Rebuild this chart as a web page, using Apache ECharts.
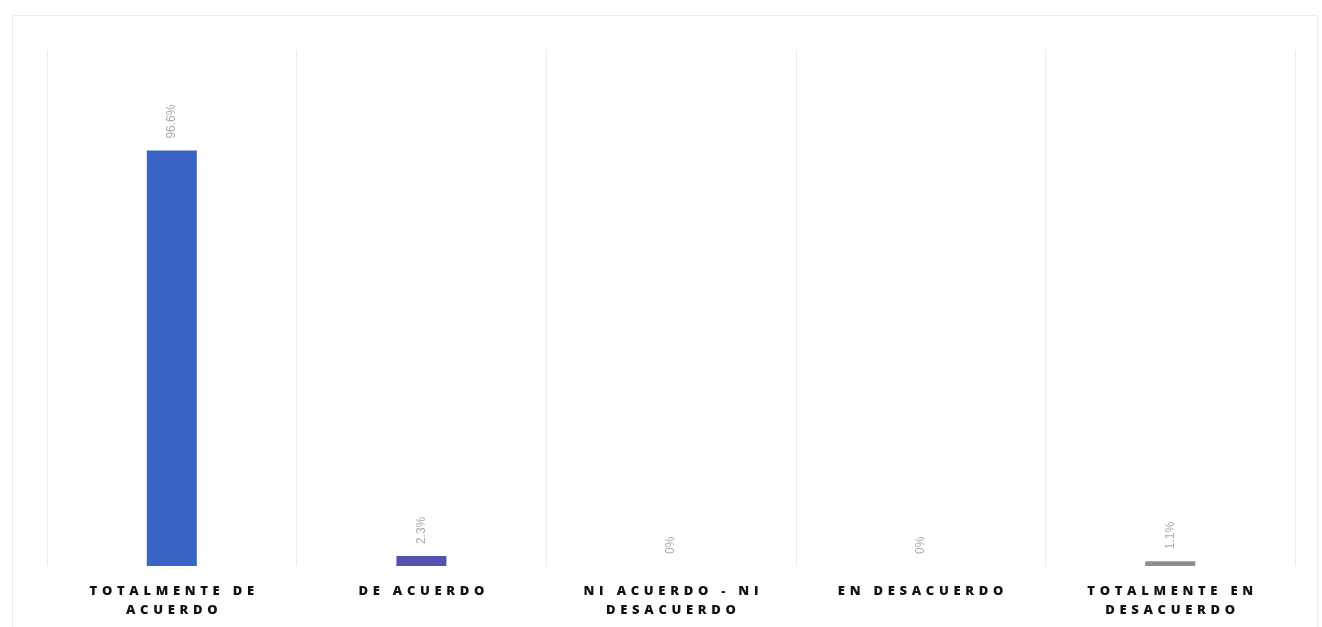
<!DOCTYPE html>
<html>
<head>
<meta charset="utf-8">
<script src="https://cdn.jsdelivr.net/npm/echarts@6/dist/echarts.min.js"></script>
<style>html,body{margin:0;padding:0;background:#fff}#c{width:1322px;height:627px}</style>
</head>
<body>
<div id="c"></div>
<script>
var categories = ["TOTALMENTE DE\nACUERDO", "DE ACUERDO", "NI ACUERDO - NI\nDESACUERDO", "EN DESACUERDO", "TOTALMENTE EN\nDESACUERDO"];
var values = [96.6, 2.3, 0, 0, 1.1];
var barColors = ["#3a63c6", "#5352b3", "#9e9e9e", "#9e9e9e", "#8f8f8f"];

function spaced(s) {
  return s.split("\n").map(function (line) {
    return line.split(" ").map(function (w) { return w.split("").join(" \u200A"); }).join("\u2002\u2002");
  }).join("\n");
}

var chart = echarts.init(document.getElementById("c"));
chart.setOption({
  backgroundColor: "#fff",
  animation: false,
  grid: { left: 47, right: 27, top: 50, bottom: 61 },
  graphic: [
    { type: "rect", shape: { x: 12.5, y: 15.5, width: 1305, height: 640 }, style: { fill: "none", stroke: "#ececec", lineWidth: 1 }, z: -1 }
  ],
  xAxis: {
    type: "category",
    data: categories,
    axisLine: { show: false },
    axisTick: { show: false },
    splitLine: { show: true, interval: 0, lineStyle: { color: "#ececec", width: 1 } },
    axisLabel: {
      interval: 0,
      margin: 16,
      color: "#111",
      fontFamily: "Open Sans",
      fontWeight: 800,
      fontSize: 13,
      lineHeight: 19,
      formatter: function (v) { return spaced(v); }
    }
  },
  yAxis: {
    type: "value",
    min: 0,
    max: 120,
    show: false,
    splitLine: { show: false }
  },
  series: [{
    type: "bar",
    data: values.map(function (v, i) { return { value: v, itemStyle: { color: barColors[i] } }; }),
    barWidth: 50,
    label: {
      show: true,
      position: "top",
      rotate: 90,
      align: "left",
      verticalAlign: "middle",
      distance: 12,
      color: "#aaa",
      fontSize: 12,
      formatter: function (p) { return p.value + "%"; }
    }
  }]
});
</script>
</body>
</html>
